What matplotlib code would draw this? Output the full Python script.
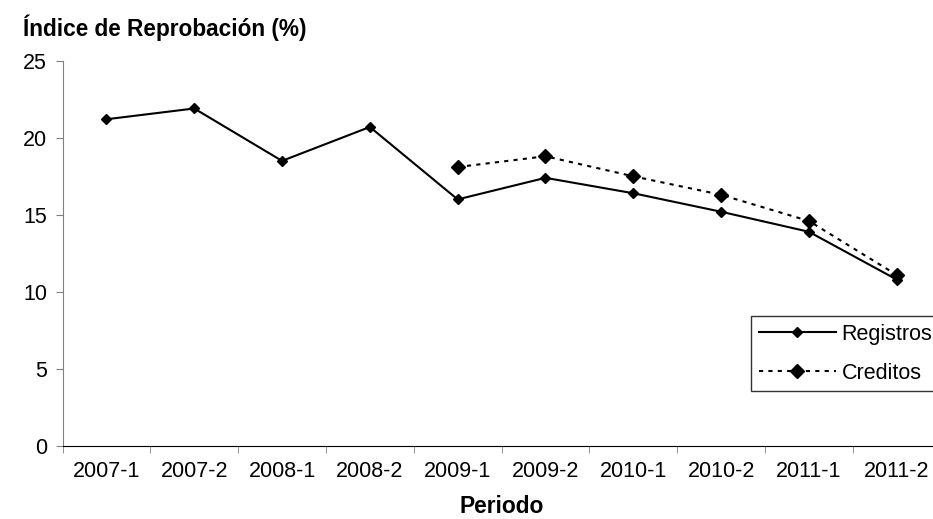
import matplotlib
matplotlib.use("Agg")
import matplotlib.pyplot as plt

periodos = ['2007-1', '2007-2', '2008-1', '2008-2', '2009-1',
            '2009-2', '2010-1', '2010-2', '2011-1', '2011-2']
registros = [21.2, 21.9, 18.5, 20.7, 16.0, 17.4, 16.4, 15.2, 13.9, 10.8]
# creditos solo desde 2009-1
creditos_periodos = ['2009-1', '2009-2', '2010-1', '2010-2', '2011-1', '2011-2']
creditos = [18.1, 18.8, 17.5, 16.3, 14.6, 11.1]
yticks = [0, 5, 10, 15, 20, 25]

plt.rcParams['font.family'] = ['Liberation Sans', 'DejaVu Sans']

W, H = 933, 519
fig = plt.figure(figsize=(W / 100, H / 100), dpi=100)
ax = fig.add_axes([62.5 / W, 1 - 446 / H, (940.6 - 62.5) / W, (446 - 60.7) / H])

x_reg = [periodos.index(p) for p in periodos]
x_cred = [periodos.index(p) for p in creditos_periodos]

ax.plot(x_reg, registros, color='black', lw=1.5, marker='D', ms=4.8,
        label='Registros')
ax.plot(x_cred, creditos, color='black', lw=1.5, ls=(0, (2, 2.5)), marker='D',
        ms=6.8, label='Creditos')

ax.set_xlim(-0.5, len(periodos) - 0.5)
ax.set_ylim(0, 25)
ax.set_yticks(yticks)
ax.tick_params(axis='y', labelsize=15.5, length=5, color='#808080', pad=6)

ax.set_xticks(range(len(periodos)))
ax.set_xticklabels(periodos)
ax.set_xticks([i - 0.5 for i in range(len(periodos) + 1)], minor=True)
ax.tick_params(axis='x', which='major', length=0, labelsize=15.5, pad=11)
ax.tick_params(axis='x', which='minor', length=5, color='#808080')

for s in ['top', 'right']:
    ax.spines[s].set_visible(False)
ax.spines['left'].set_color('#808080')
ax.spines['bottom'].set_color('black')

ax.set_xlabel('Periodo', fontsize=16.4, fontweight='bold', labelpad=9)
fig.text(23 / W, 1 - 36 / H, 'Índice de Reprobación (%)', fontsize=16.3,
         fontweight='bold', va='baseline', ha='left')

leg = ax.legend(loc='upper left', bbox_to_anchor=(751 / W, 1 - 316 / H),
                bbox_transform=fig.transFigure, fontsize=15.5, frameon=True,
                fancybox=False, edgecolor='black', handlelength=3.6,
                handletextpad=0.25, labelspacing=0.85, borderpad=0.35,
                borderaxespad=0)
leg.get_frame().set_linewidth(1.0)

fig.savefig('out.png', dpi=100)
